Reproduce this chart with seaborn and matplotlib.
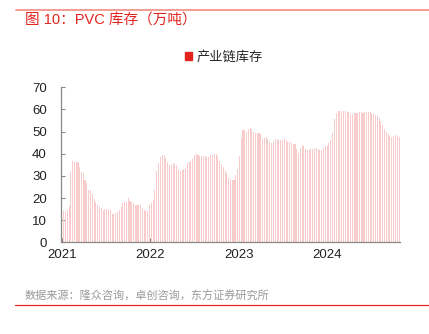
import numpy as np
import pandas as pd
import matplotlib
matplotlib.use("Agg")
import matplotlib.pyplot as plt
import seaborn as sns

# ---- data (万吨) ----
values_2021 = [14.3, 14.3, 15, 16.3, 32, 36.8, 36.3, 36.2, 36.3, 34.2, 31.8, 31.2, 28.2, 26.7,
               23.7, 23.4, 21.9, 19.5, 18, 16.9, 16.1, 15.7, 14.6, 15.2, 14.9, 14.9, 14.6, 12.8,
               12.8, 13.1, 13.9, 14.6, 16.1, 17.6, 18.4, 18.2, 19.9, 18.7, 18, 17.6, 16.7, 16.9,
               16.7, 16.7, 15.7, 14.6, 14.2, 14.3, 16.7]
values_2022 = [17.6, 19.2, 23.7, 32, 36, 38.3, 39.5, 39.4, 38, 36.2, 35, 35, 36, 35.4, 35,
               33.2, 32.3, 32.7, 33, 33, 35.7, 36.2, 36.5, 37.7, 39.5, 40, 39.4, 39.1, 39.1,
               39.1, 38.8, 38.5, 38.5, 39.4, 39.4, 40, 40, 38.8, 36.5, 35.4, 34.2, 32.4, 31.2,
               29.4, 28.7, 28.2, 28.2, 30.2]
values_2023 = [33.2, 39, 47, 50.8, 50.5, 50, 51.1, 51.7, 51.1, 50, 49.3, 49.3, 49.3, 48.9,
               46.6, 47, 47.4, 46.6, 45.1, 44.8, 45.5, 46.6, 46.8, 46.3, 46, 46.3, 46.6, 46.3,
               45.5, 45.1, 44.8, 44.5, 44.3, 42, 40.3, 42.8, 44, 43.3, 42, 41.8, 41.8, 42, 42,
               42.5, 42.5, 42, 41.5, 41.8]
values_2024 = [42.5, 43.3, 43.6, 44.8, 46, 49.3, 55.7, 58.4, 59.1, 59.4, 59.4, 59.4, 59.3, 59,
               58.7, 58.1, 58.1, 58.4, 58.4, 58.5, 58.7, 58.7, 58.5, 58.7, 58.7, 58.7, 58.7,
               58.4, 58.1, 57.6, 57.2, 56.1, 54.9, 53.1, 51.1, 49.6, 49, 47.8, 47.5, 48.1,
               48.6, 48.1, 47.4]
start_date = "2021-01-08"
end_date = "2024-10-25"
year_ticks = [2021, 2022, 2023, 2024]
y_ticks = [0, 10, 20, 30, 40, 50, 60, 70]
series_name = "产业链库存"
title_text = "图 10：PVC 库存（万吨）"
source_text = "数据来源：隆众咨询，卓创咨询，东方证券研究所"

values = values_2021 + values_2022 + values_2023 + values_2024
dates = pd.date_range(start_date, end_date, periods=len(values))
frac_year = dates.year + (dates.dayofyear - 1) / 365.25
df = pd.DataFrame({"x": np.round(frac_year, 5), "y": values, "s": series_name})

sns.set_theme(style="white")
plt.rcParams["font.family"] = ["Liberation Sans", "Noto Sans CJK SC", "DejaVu Sans"]

fig = plt.figure(figsize=(4.29, 3.34), dpi=100)
ax = fig.add_axes([0.1415, 0.2746, 0.7916, 0.464])

bar_color = "#f9cccc"
sns.barplot(data=df, x="x", y="y", native_scale=True, color=bar_color,
            width=0.62, linewidth=0, saturation=1, ax=ax, errorbar=None)

ax.set_ylim(0, 70)
ax.set_xlim(2020.985, 2024.83)
ax.set_yticks(y_ticks)
ax.set_yticklabels([str(v) for v in y_ticks], fontsize=9.5, color="#222222")
ax.set_xticks(year_ticks)
ax.set_xticklabels([str(v) for v in year_ticks], fontsize=9.5, color="#222222")
ax.set_xlabel("")
ax.set_ylabel("")
ax.tick_params(axis="y", direction="in", length=3, width=0.8, color="#888888", pad=10, left=True)
ax.tick_params(axis="x", direction="in", length=3, width=0.8, color="#888888", pad=5, bottom=True)
for side in ["top", "right"]:
    ax.spines[side].set_visible(False)
for side in ["left", "bottom"]:
    ax.spines[side].set_color("#888888")
    ax.spines[side].set_linewidth(0.9)
ax.grid(False)

# legend
handle = plt.Rectangle((0, 0), 1, 1, color="#e3231d")
fig.legend([handle], [series_name], loc="center", bbox_to_anchor=(0.522, 0.829),
           frameon=False, fontsize=9.5, handlelength=0.55, handleheight=0.55,
           handletextpad=0.3, borderpad=0)

# title and header line
fig.add_artist(plt.Line2D([0.037, 1.0], [0.970, 0.970], color="#f28b82", linewidth=1.2))
fig.text(0.058, 0.941, title_text, color="#e3231d", fontsize=10.5, ha="left", va="center")

# source and footer line
fig.text(0.058, 0.112, source_text, color="#999999", fontsize=8, ha="left", va="center")
fig.add_artist(plt.Line2D([0.035, 1.0], [0.087, 0.087], color="#e3231d", linewidth=0.9))

fig.savefig("out.png", dpi=100)
